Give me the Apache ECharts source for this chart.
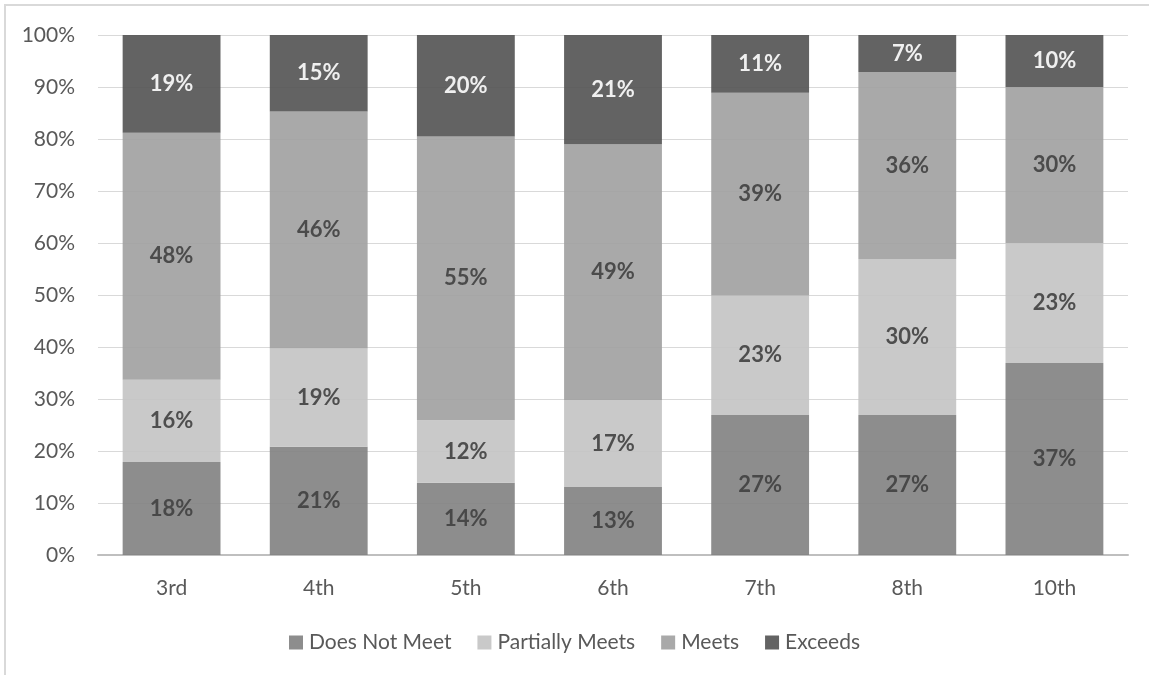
<!DOCTYPE html>
<html>
<head>
<meta charset="utf-8">
<script src="https://cdn.jsdelivr.net/npm/echarts@6/dist/echarts.min.js"></script>
<style>
html,body{margin:0;padding:0;background:#fff;}
#c{width:1149px;height:675px;}
</style>
</head>
<body>
<div id="c"></div>
<script>
const categories = ['3rd','4th','5th','6th','7th','8th','10th'];
const seriesNames = ['Does Not Meet','Partially Meets','Meets','Exceeds'];
const doesNotMeet   = [17.9, 20.8, 13.9, 13.1, 26.9, 26.9, 36.9];
const partiallyMeets = [15.8, 18.9, 12.0, 16.7, 23.0, 30.0, 23.1];
const meets          = [47.5, 45.6, 54.6, 49.2, 39.0, 36.0, 30.0];
const exceeds        = [18.8, 14.7, 19.5, 21.0, 11.1, 7.1, 10.0];
const yTicks = [0,10,20,30,40,50,60,70,80,90,100];

const FONT = 'Lato';
const colors = ['#818181','#c3c3c3','#a0a0a0','#525252'];
const labelColors = ['#404040','#404040','#404040','#ffffff'];
const values = [doesNotMeet, partiallyMeets, meets, exceeds];

const chart = echarts.init(document.getElementById('c'), null, {renderer:'canvas'});
chart.setOption({
  animation:false,
  backgroundColor:'#ffffff',
  textStyle:{fontFamily:FONT},
  graphic:[{
    type:'rect', z:-10, silent:true,
    shape:{x:5, y:5, width:1200, height:720},
    style:{fill:'none', stroke:'#d9d9d9', lineWidth:2}
  }],
  grid:{left:98, right:21, top:35, bottom:120, containLabel:false},
  legend:{
    data:seriesNames,
    left:284, top:627,
    itemWidth:14, itemHeight:14, itemGap:26,
    icon:'rect',
    textStyle:{fontFamily:FONT, fontSize:21, color:'#595959', padding:[0,0,0,1]}
  },
  xAxis:{
    type:'category', data:categories,
    axisLine:{show:true, lineStyle:{color:'#bfbfbf', width:2}},
    axisTick:{show:false},
    axisLabel:{fontFamily:FONT, fontSize:21, color:'#595959', margin:23}
  },
  yAxis:{
    type:'value', min:0, max:100, interval:10,
    axisLine:{show:false}, axisTick:{show:false},
    splitLine:{lineStyle:{color:'#d9d9d9', width:1}},
    axisLabel:{fontFamily:FONT, fontSize:21, color:'#595959', margin:23,
      formatter:function(v){ return yTicks.indexOf(v)>=0 ? v+'%' : ''; }}
  },
  series: seriesNames.map(function(name,i){
    return {
      name:name, type:'bar', stack:'total',
      barCategoryGap:'33.5%',
      data:values[i],
      itemStyle:{color:colors[i], opacity:0.9},
      label:{show:true, position:'inside', fontFamily:FONT, fontSize:22, fontWeight:'bold',
        color:labelColors[i],
        formatter:function(p){ return Math.round(p.value)+'%'; }}
    };
  })
});
</script>
</body>
</html>
